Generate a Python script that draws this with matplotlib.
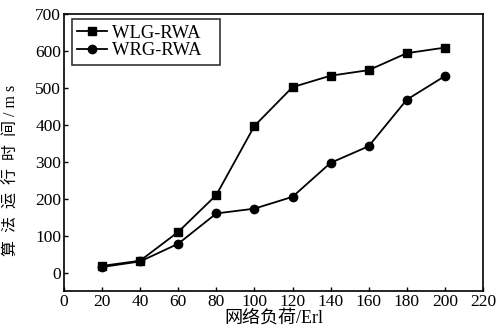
import matplotlib
matplotlib.use("Agg")
import matplotlib.pyplot as plt

plt.rcParams['font.family'] = ['Liberation Serif', 'Noto Sans CJK SC']

load = [20, 40, 60, 80, 100, 120, 140, 160, 180, 200]
wlg = [18, 32, 110, 210, 397, 502, 533, 548, 594, 609]
wrg = [15, 30, 78, 160, 173, 205, 297, 342, 468, 532]

fig = plt.figure(figsize=(5.01, 3.29), dpi=100)
ax = fig.add_axes([0.1277, 0.1155, 0.8363, 0.8419])

ax.plot(load, wlg, color='black', lw=1.3, marker='s', ms=6, label='WLG-RWA   ')
ax.plot(load, wrg, color='black', lw=1.3, marker='o', ms=6, label='WRG-RWA   ')

ax.set_xlim(0, 220)
ax.set_ylim(-50, 700)
ax.set_xticks(range(0, 221, 20))
ax.set_yticks(range(0, 701, 100))
ax.tick_params(direction='in', length=3, width=1, labelsize=12.5, pad=2)
for s in ax.spines.values():
    s.set_linewidth(1.2)

ax.set_xlabel('网络负荷/Erl', fontsize=13, labelpad=0)
ax.set_ylabel('算  法  运  行  时  间 / m s', fontsize=11.5, labelpad=2)
ax.yaxis.set_label_coords(-0.105, 0.437)

leg = ax.legend(loc='upper left', bbox_to_anchor=(0.019, 0.982), fontsize=13.3,
                frameon=True, fancybox=False, edgecolor='black',
                handlelength=1.6, borderpad=0.3, labelspacing=0.05,
                handletextpad=0.25, borderaxespad=0)
leg.get_frame().set_linewidth(1.2)

fig.savefig('out.png', dpi=100)
